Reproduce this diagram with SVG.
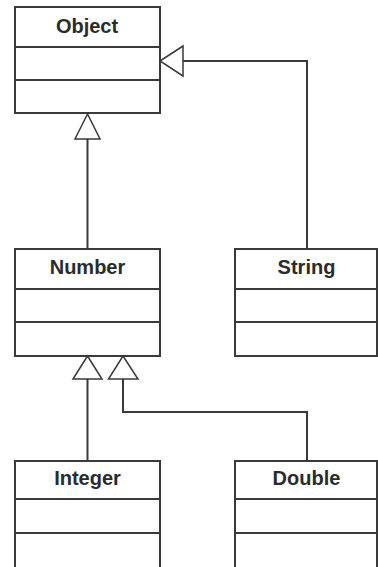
<svg xmlns="http://www.w3.org/2000/svg" width="378" height="567" viewBox="0 0 378 567">
<style>
.box{fill:#fff;stroke:#3a3a3a;stroke-width:2}
.div{stroke:#3a3a3a;stroke-width:2}
.lbl{font-family:"Liberation Sans",Arial,sans-serif;font-weight:bold;font-size:20px;fill:#2b2b2b;text-anchor:middle}
.edge{fill:none;stroke:#3a3a3a;stroke-width:2}
.tri{fill:#fff;stroke:#3a3a3a;stroke-width:1.5;stroke-linejoin:miter}
</style>
<rect width="378" height="567" fill="#fff"/>
<g id="Object">
<rect class="box" x="15" y="7" width="145" height="106"/>
<line class="div" x1="15" y1="47" x2="160" y2="47"/>
<line class="div" x1="15" y1="80" x2="160" y2="80"/>
<text class="lbl" x="87" y="33">Object</text>
</g>
<g id="Number">
<rect class="box" x="15" y="249" width="145" height="107"/>
<line class="div" x1="15" y1="289" x2="160" y2="289"/>
<line class="div" x1="15" y1="322" x2="160" y2="322"/>
<text class="lbl" x="87.5" y="274">Number</text>
</g>
<g id="String">
<rect class="box" x="235" y="249" width="142" height="107"/>
<line class="div" x1="235" y1="289" x2="377" y2="289"/>
<line class="div" x1="235" y1="322" x2="377" y2="322"/>
<text class="lbl" x="306.5" y="274">String</text>
</g>
<g id="Integer">
<rect class="box" x="15" y="461" width="145" height="112"/>
<line class="div" x1="15" y1="499" x2="160" y2="499"/>
<line class="div" x1="15" y1="533" x2="160" y2="533"/>
<text class="lbl" x="87.5" y="485">Integer</text>
</g>
<g id="Double">
<rect class="box" x="235" y="461" width="142" height="112"/>
<line class="div" x1="235" y1="499" x2="377" y2="499"/>
<line class="div" x1="235" y1="533" x2="377" y2="533"/>
<text class="lbl" x="306.5" y="485">Double</text>
</g>
<g id="connectors">
<path class="edge" d="M307 249 V61 H183"/>
<polygon class="tri" points="160,61 183,46 183,76"/>
<path class="edge" d="M87.5 249 V139"/>
<polygon class="tri" points="87.5,114 75,139 100,139"/>
<path class="edge" d="M87.5 461 V379"/>
<polygon class="tri" points="87.5,356 73,379 102,379"/>
<path class="edge" d="M307 461 V412 H123 V379"/>
<polygon class="tri" points="123,356 108.5,379 138,379"/>
</g>
</svg>
